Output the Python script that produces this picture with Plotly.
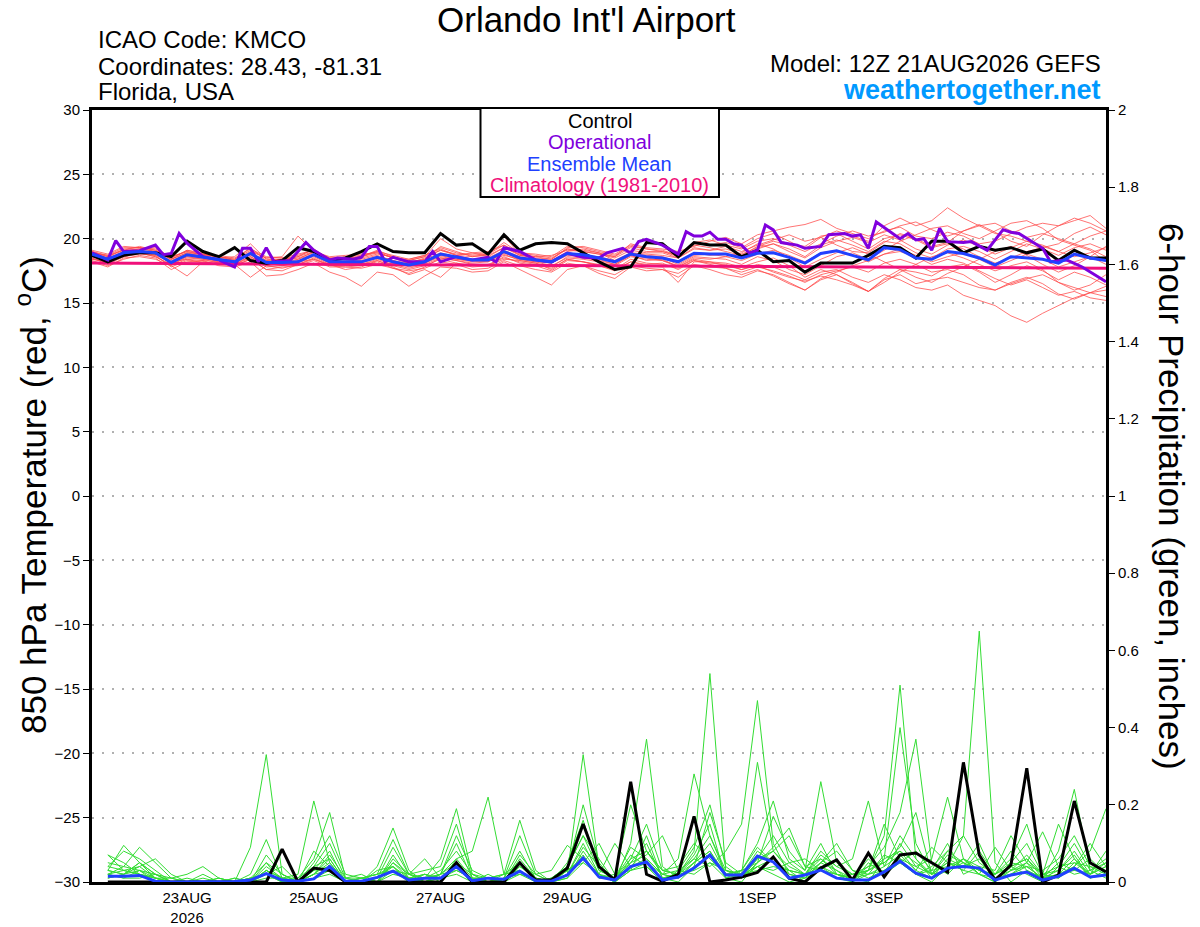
import pandas as pd
import plotly.graph_objects as go

# --- data (12Z 21AUG2026, KMCO) ---------------------
START = pd.Timestamp("2026-08-21 12:00")
temp_hours = list(range(0, 385, 6))          # 6-hourly steps, 0..384 h
precip_hours = temp_hours[1:]                # accumulations start at +6 h
clim_hours = list(range(0, 385, 24))

# 850 hPa temperature, degC
control_temp = [18.7, 18.2, 18.7, 18.9, 18.9, 18.6, 19.8, 19.0, 18.6, 19.3, 18.3, 18.1, 18.3,
                19.3, 19.0, 18.3, 18.5, 19.0, 19.6, 19.0, 18.9, 18.9, 20.4, 19.5, 19.6, 18.8,
                20.3, 19.1, 19.6, 19.7, 19.6, 18.9, 18.2, 17.6, 17.8, 19.7, 19.6, 18.6, 19.7,
                19.5, 19.5, 18.6, 19.1, 18.2, 18.3, 17.4, 18.1, 18.1, 18.1, 18.7, 19.4, 19.3,
                18.5, 19.8, 19.8, 18.9, 19.4, 19.1, 19.3, 18.9, 19.2, 18.3, 19.1, 18.5, 18.5]
mean_temp = [18.8, 18.4, 18.9, 19.0, 18.9, 18.15, 18.75, 18.55, 18.35, 18.2, 18.85, 18.15, 18.15,
             18.2, 18.75, 18.2, 18.2, 18.2, 18.55, 18.2, 17.95, 18.2, 18.8, 18.6, 18.35, 18.35,
             19.0, 18.5, 18.35, 18.2, 18.85, 18.75, 18.5, 18.2, 18.8, 18.6, 18.5, 18.2, 18.87,
             18.8, 18.8, 18.5, 18.87, 18.9, 18.55, 18.1, 18.85, 19.05, 18.7, 18.35, 19.3, 19.15,
             18.5, 18.4, 19.0, 18.85, 18.5, 17.95, 18.6, 18.5, 18.4, 18.1, 18.8, 18.5, 18.3]
clim_temp = [18.1, 18.08, 18.05, 18.03, 18.0, 17.98, 17.95, 17.93, 17.9, 17.88, 17.85, 17.83,
             17.8, 17.78, 17.75, 17.73, 17.7]

# operational run is 3-hourly
op_hours = [0, 6, 9, 12, 18, 24, 27, 30, 33, 36, 42, 48, 54, 57, 60, 63, 66, 69, 75, 81, 84, 90,
            93, 99, 102, 105, 108, 111, 114, 120, 126, 129, 132, 138, 144, 150, 153, 156, 162,
            168, 174, 180, 186, 192, 195, 201, 204, 207, 210, 216, 222, 225, 228, 231, 234, 237,
            240, 243, 246, 249, 252, 255, 258, 261, 267, 270, 276, 279, 285, 288, 291, 294, 297,
            303, 306, 309, 312, 315, 318, 321, 324, 330, 333, 339, 345, 348, 351, 360, 363, 369,
            375, 384]
op_temp = [18.9, 18.35, 19.85, 19.0, 19.07, 19.5, 18.75, 18.85, 20.4, 19.65, 18.6, 18.35, 17.8,
           19.25, 19.25, 18.2, 19.3, 18.2, 18.3, 19.7, 19.1, 18.35, 18.5, 18.4, 18.55, 19.4, 19.4,
           18.2, 18.55, 18.2, 18.2, 19.0, 18.2, 18.6, 18.35, 18.55, 18.2, 19.3, 19.0, 18.35, 18.2,
           18.87, 18.55, 18.5, 18.9, 19.25, 18.87, 19.77, 19.95, 19.5, 18.8, 20.55, 20.2, 20.2,
           20.5, 19.95, 19.95, 19.6, 19.5, 18.87, 19.1, 21.06, 20.68, 19.7, 19.5, 19.25, 19.4,
           20.3, 20.4, 20.2, 20.3, 19.25, 21.3, 20.4, 20.0, 20.4, 19.9, 20.0, 19.1, 20.8, 19.77,
           19.7, 19.77, 19.1, 20.7, 20.5, 20.4, 19.25, 18.2, 18.35, 17.8, 16.65]

member_temps = [
    [18.9, 18.6, 19.2, 19.3, 19.0, 18.4, 19.1, 18.8, 18.5, 18.6, 19.6, 18.4, 18.3, 18.6, 19.2, 18.4, 18.5,
     18.6, 19.1, 18.6, 18.2, 18.4, 19.4, 19.0, 18.6, 18.8, 19.7, 18.9, 18.8, 18.6, 19.4, 19.3, 19.0, 18.7,
     19.4, 19.2, 19.1, 18.7, 19.6, 19.5, 19.7,
     19.3, 20.0, 20.4, 19.8, 19.2, 20.1, 20.6, 20.2, 19.8, 21.0, 21.6, 21.0, 21.4, 22.4, 21.6, 21.0, 20.4,
     20.2, 19.8, 19.4, 19.0, 19.6, 19.2, 18.6],
    [18.5, 18.0, 18.6, 18.8, 18.7, 17.8, 18.3, 18.2, 18.0, 17.9, 18.4, 17.6, 17.5, 18.0, 18.5, 17.9, 17.8,
     17.9, 18.2, 17.7, 17.3, 17.8, 18.5, 18.3, 18.0, 17.9, 18.6, 18.1, 17.9, 17.5, 18.3, 18.2, 17.9, 17.6,
     18.4, 18.1, 18.0, 17.7, 18.3, 18.1, 18.0,
     17.6, 18.0, 17.8, 17.3, 16.8, 17.4, 17.6, 17.0, 16.6, 17.2, 16.8, 16.2, 16.0, 16.4, 15.6, 15.2, 14.8,
     14.0, 13.5, 14.2, 14.8, 15.4, 15.8, 16.0],
    [19.1, 18.8, 19.4, 19.3, 19.2, 18.6, 19.0, 18.7, 18.7, 18.5, 19.2, 18.6, 18.5, 18.4, 19.0, 18.6, 18.7,
     18.8, 18.9, 18.5, 18.4, 18.7, 19.2, 18.7, 18.9, 18.6, 19.3, 18.8, 18.6, 18.7, 19.1, 19.0, 18.8, 18.6,
     19.6, 19.3, 19.2, 19.0, 19.4, 19.8, 20.1,
     19.6, 20.3, 20.6, 20.9, 21.1, 21.5, 20.8, 20.4, 20.0, 20.6, 20.9, 20.2, 20.0, 20.5, 20.2, 19.6, 19.8,
     20.4, 20.9, 21.2, 21.0, 21.4, 21.8, 20.8],
    [18.3, 17.9, 18.4, 18.7, 18.5, 17.6, 18.2, 18.3, 17.9, 17.8, 18.2, 17.1, 17.2, 17.6, 18.1, 17.4, 17.0,
     16.3, 17.4, 17.2, 16.3, 17.1, 17.8, 17.7, 17.4, 17.5, 18.2, 17.6, 17.0, 16.4, 17.6, 17.9, 17.3, 16.9,
     17.8, 17.5, 17.6, 17.0, 17.9, 17.6, 17.2,
     17.0, 17.5, 17.2, 16.6, 16.0, 16.8, 17.2, 16.6, 15.9, 16.8, 17.2, 16.5, 16.8, 17.0, 16.6, 16.2, 16.0,
     16.5, 16.9, 17.2, 16.6, 16.2, 15.8, 15.5],
    [18.7, 18.5, 19.0, 19.2, 19.3, 18.5, 19.1, 18.9, 18.6, 18.3, 19.0, 18.5, 18.6, 20.2, 19.0, 18.3, 18.4,
     18.6, 19.0, 18.5, 18.3, 18.6, 19.1, 18.8, 18.8, 18.9, 20.2, 18.8, 18.4, 18.3, 19.0, 19.2, 18.9, 18.3,
     18.9, 18.8, 18.7, 18.5, 19.3, 19.1, 19.2,
     18.8, 19.3, 19.6, 19.2, 18.6, 19.5, 19.9, 19.5, 19.0, 19.8, 19.6, 18.9, 18.5, 19.2, 19.4, 19.0, 18.4,
     19.0, 19.6, 19.2, 18.7, 19.3, 19.6, 19.1],
    [18.4, 18.2, 18.6, 18.9, 18.6, 17.9, 17.1, 18.2, 18.0, 18.0, 17.0, 17.9, 17.7, 18.0, 18.4, 18.0, 17.6,
     17.8, 18.3, 17.8, 17.2, 17.6, 17.0, 18.1, 17.8, 17.9, 18.4, 18.3, 18.1, 17.6, 18.4, 18.2, 18.0, 17.6,
     18.2, 17.9, 17.8, 16.6, 18.2, 18.2, 18.1,
     17.8, 18.2, 18.5, 17.9, 17.0, 17.6, 17.2, 16.5, 15.9, 16.9, 17.6, 17.4, 17.1, 17.8, 18.0, 17.4, 16.6,
     17.2, 17.9, 17.5, 16.8, 17.4, 17.0, 16.4],
    [19.0, 18.6, 19.1, 19.2, 19.0, 18.4, 18.9, 18.6, 18.5, 18.3, 18.9, 18.3, 18.4, 18.6, 19.0, 18.5, 18.4,
     18.5, 18.8, 18.6, 18.3, 18.6, 20.0, 19.2, 18.9, 19.0, 19.5, 18.7, 18.6, 18.4, 19.3, 19.4, 19.1, 18.8,
     19.5, 19.2, 19.0, 18.7, 19.7, 19.9, 19.5,
     19.2, 19.8, 20.0, 19.6, 19.4, 20.2, 20.4, 19.8, 19.2, 20.0, 20.3, 19.9, 19.3, 19.6, 19.2, 18.6, 18.1,
     18.5, 19.0, 19.3, 19.6, 20.4, 20.9, 20.3],
    [18.6, 18.3, 18.8, 19.0, 18.8, 18.2, 18.6, 18.4, 18.3, 18.1, 18.6, 18.0, 18.0, 18.2, 18.6, 18.0, 18.1,
     18.0, 18.4, 18.0, 17.7, 18.0, 18.5, 18.3, 18.1, 18.2, 18.7, 18.4, 18.2, 17.9, 18.5, 18.4, 18.2, 17.9,
     18.6, 18.4, 18.3, 17.9, 18.6, 18.5, 18.4,
     18.0, 18.6, 18.3, 17.6, 17.2, 17.9, 18.6, 18.9, 18.4, 19.1, 19.8, 20.3, 20.8, 21.0, 20.4, 20.0, 20.6,
     21.2, 21.4, 20.8, 19.9, 19.5, 19.1, 18.2],
    [18.8, 18.5, 18.9, 18.9, 18.9, 18.0, 18.6, 18.5, 18.2, 18.1, 18.8, 18.1, 17.9, 18.1, 18.7, 18.1, 18.0,
     18.1, 18.5, 18.1, 17.9, 18.1, 18.7, 18.4, 18.3, 18.2, 18.9, 18.4, 18.2, 18.1, 18.8, 18.6, 18.4, 18.0,
     18.7, 18.3, 18.4, 17.8, 18.4, 18.2, 17.9,
     17.6, 17.9, 17.4, 17.0, 16.7, 17.1, 16.8, 16.4, 15.9, 16.6, 17.4, 18.0, 18.6, 18.9, 18.5, 18.0, 17.5,
     17.9, 18.2, 17.6, 16.6, 16.0, 16.4, 17.2],
    [18.9, 18.7, 19.3, 19.3, 19.1, 18.4, 18.9, 18.8, 18.6, 18.4, 19.3, 18.3, 18.4, 18.7, 19.1, 18.4, 18.5,
     18.6, 18.9, 18.5, 18.1, 18.5, 19.1, 18.7, 18.6, 18.7, 19.3, 18.7, 18.5, 18.4, 19.2, 19.0, 18.8, 18.5,
     19.1, 18.9, 18.9, 18.5, 19.2, 19.1, 19.4,
     19.0, 19.5, 19.9, 20.3, 19.8, 20.1, 19.5, 19.0, 18.9, 19.7, 20.4, 20.0, 19.4, 19.7, 20.6, 21.1, 20.5,
     19.8, 19.4, 20.3, 21.0, 21.6, 21.2, 20.6],
    [18.2, 17.8, 18.5, 18.6, 18.4, 17.9, 18.4, 18.1, 18.1, 17.9, 18.4, 17.6, 17.8, 17.9, 18.3, 17.8, 17.8,
     17.7, 18.0, 17.7, 17.5, 17.7, 18.2, 18.0, 17.6, 17.7, 18.3, 17.9, 17.6, 17.4, 18.1, 17.9, 17.5, 17.2,
     17.9, 17.7, 17.6, 17.3, 18.0, 17.8, 17.7,
     17.4, 17.8, 17.5, 17.1, 16.6, 17.2, 17.5, 17.8, 17.4, 18.1, 18.4, 18.0, 17.4, 17.6, 17.2, 16.4, 16.0,
     16.6, 17.0, 16.5, 15.7, 15.3, 15.8, 16.3],
    [18.6, 18.4, 19.0, 19.1, 18.9, 18.3, 18.8, 18.7, 18.4, 18.3, 18.7, 18.2, 18.3, 18.5, 18.9, 18.3, 18.2,
     18.4, 18.7, 18.3, 18.1, 18.4, 18.9, 18.6, 18.4, 18.5, 19.1, 18.6, 18.4, 18.2, 18.9, 18.7, 18.6, 18.3,
     18.9, 18.7, 18.6, 18.2, 18.9, 18.7, 18.8,
     18.6, 19.2, 19.6, 19.0, 18.5, 19.3, 19.8, 20.1, 19.7, 20.3, 19.9, 19.2, 18.8, 19.5, 19.9, 19.4, 18.8,
     19.3, 19.8, 19.5, 19.0, 18.6, 18.9, 19.3],
    [18.5, 18.1, 18.7, 18.9, 18.6, 18.0, 18.5, 18.4, 18.1, 18.0, 18.5, 17.8, 17.9, 18.2, 18.4, 17.9, 18.0,
     18.0, 18.3, 17.9, 17.6, 17.9, 18.4, 18.1, 17.9, 18.0, 18.5, 18.2, 18.0, 17.7, 18.4, 18.2, 17.9, 17.5,
     18.2, 18.0, 18.1, 17.6, 18.3, 18.0, 17.7,
     17.2, 17.6, 17.1, 16.5, 16.0, 16.9, 17.4, 17.9, 18.3, 18.8, 19.0, 18.6, 18.0, 18.4, 18.1, 17.5, 16.9,
     16.4, 16.8, 16.2, 15.6, 15.9, 15.4, 15.2],
    [19.0, 18.7, 19.1, 19.4, 19.1, 18.6, 19.0, 18.8, 18.6, 18.4, 19.1, 18.5, 18.5, 18.8, 19.1, 18.5, 18.6,
     18.7, 19.0, 18.7, 18.4, 18.7, 19.3, 18.9, 18.7, 18.8, 19.5, 18.9, 18.7, 18.5, 19.2, 19.1, 18.9, 18.6,
     19.3, 19.0, 19.0, 18.6, 19.5, 19.3, 19.0,
     18.7, 19.4, 19.8, 19.5, 19.0, 19.6, 20.2, 20.6, 20.2, 20.5, 21.0, 21.3, 20.7, 20.2, 20.6, 21.0, 21.2,
     20.6, 20.1, 20.4, 20.0, 19.6, 20.2, 20.6],
    [18.7, 18.3, 18.8, 19.1, 18.8, 18.1, 18.7, 18.5, 18.3, 18.2, 18.9, 18.2, 18.1, 18.4, 18.8, 18.2, 18.3,
     18.3, 18.6, 18.3, 17.9, 18.2, 18.8, 18.5, 18.3, 18.4, 18.9, 18.5, 18.3, 18.1, 18.7, 18.7, 18.5, 18.2,
     18.8, 18.6, 18.5, 18.0, 18.7, 18.8, 18.6,
     18.3, 18.8, 19.1, 18.7, 18.2, 18.9, 19.1, 18.7, 18.2, 18.8, 19.2, 18.7, 18.2, 18.6, 18.9, 18.4, 17.8,
     18.3, 18.8, 18.4, 17.8, 18.2, 18.6, 18.0],
    [18.4, 18.2, 18.8, 19.0, 18.7, 18.2, 18.4, 18.3, 18.2, 18.0, 18.6, 17.9, 18.1, 18.3, 18.7, 18.1, 18.0,
     18.2, 18.5, 18.2, 17.8, 18.1, 18.6, 18.4, 18.2, 18.3, 18.8, 18.3, 18.1, 17.8, 18.6, 18.5, 18.3, 18.0,
     18.7, 18.5, 18.3, 17.8, 18.5, 18.4, 18.6,
     18.9, 19.6, 19.2, 18.5, 17.8, 18.4, 18.9, 19.3, 18.8, 18.2, 17.6, 17.0, 16.6, 17.3, 17.8, 18.4, 19.0,
     19.4, 18.7, 18.0, 17.4, 17.9, 18.6, 19.4],
]

# 6-hour precipitation, inches
control_precip = [0, 0, 0, 0, 0, 0, 0, 0, 0, 0, 0, 0.085, 0, 0.036, 0.03, 0, 0, 0, 0, 0, 0, 0,
                  0.05, 0, 0, 0, 0.05, 0.005, 0.005, 0.036, 0.15, 0.04, 0.005, 0.26, 0.02, 0.002,
                  0.02, 0.17, 0, 0.005, 0.013, 0.025, 0.065, 0.01, 0, 0.036, 0.057, 0.005, 0.075,
                  0.013, 0.07, 0.075, 0.05, 0.026, 0.31, 0.07, 0.005, 0.044, 0.295, 0, 0.018, 0.21,
                  0.05, 0.026]
mean_precip = [0.015, 0.015, 0.017, 0.002, 0, 0, 0, 0, 0.001, 0.005, 0.022, 0.005, 0.002, 0.008,
               0.04, 0.002, 0.002, 0.012, 0.028, 0.005, 0.01, 0.01, 0.04, 0.003, 0.01, 0.007, 0.028,
               0.003, 0.002, 0.018, 0.062, 0.013, 0.005, 0.04, 0.052, 0.005, 0.013, 0.036, 0.07,
               0.018, 0.018, 0.067, 0.052, 0.01, 0.018, 0.031, 0.01, 0.005, 0.005, 0.026, 0.054,
               0.023, 0.01, 0.036, 0.04, 0.036, 0.005, 0.018, 0.026, 0.005, 0.015, 0.036, 0.013,
               0.018]

member_precips = [
    [0.02, 0.01, 0.03, 0, 0, 0, 0, 0, 0, 0.09, 0.33, 0.02, 0, 0.01, 0.03, 0,
     0, 0.01, 0.03, 0, 0, 0.01, 0.04, 0, 0, 0.01, 0.02, 0, 0, 0.02, 0.33, 0.04,
     0, 0.05, 0.1, 0.01, 0.02, 0.08, 0.54, 0.03, 0.01, 0.04, 0.02, 0, 0.01, 0.03, 0.02, 0,
     0.02, 0.03, 0.06, 0.02, 0, 0.04, 0.12, 0.65, 0.05, 0, 0.03, 0.01, 0.02, 0.06, 0.02, 0.04],
    [0.07, 0.05, 0.02, 0.01, 0, 0, 0, 0, 0, 0, 0.04, 0.01, 0.02, 0.21, 0.05, 0,
     0, 0, 0.05, 0.01, 0.02, 0, 0.06, 0.08, 0.22, 0.02, 0.03, 0, 0, 0.01, 0.08, 0.02,
     0, 0.1, 0.37, 0.04, 0.01, 0.05, 0.1, 0.02, 0.03, 0.09, 0.05, 0.01, 0.02, 0.04, 0.01, 0,
     0.03, 0.12, 0.51, 0.06, 0.01, 0.03, 0.05, 0.02, 0, 0.04, 0.06, 0.01, 0.08, 0.24, 0.03, 0.01],
    [0.04, 0.08, 0.06, 0.03, 0, 0.01, 0, 0, 0, 0.01, 0.02, 0, 0.01, 0.06, 0.18, 0.01,
     0, 0.03, 0.04, 0, 0.01, 0.06, 0.19, 0.02, 0, 0, 0.05, 0, 0.01, 0.04, 0.12, 0.03,
     0.01, 0.07, 0.04, 0, 0.03, 0.06, 0.04, 0.08, 0.15, 0.47, 0.1, 0.02, 0.01, 0.05, 0.03, 0.01,
     0.04, 0.09, 0.18, 0.37, 0.05, 0.02, 0.06, 0.03, 0.01, 0.03, 0.05, 0, 0.02, 0.04, 0.08, 0.19],
    [0.03, 0.02, 0.05, 0.02, 0, 0, 0.01, 0, 0.01, 0, 0.07, 0.02, 0, 0.03, 0.08, 0,
     0, 0.04, 0.14, 0.03, 0, 0.02, 0.05, 0, 0.01, 0, 0.06, 0.01, 0, 0.03, 0.2, 0.05,
     0, 0.04, 0.08, 0.02, 0.06, 0.28, 0.12, 0.02, 0.02, 0.06, 0.08, 0.03, 0, 0.04, 0.02, 0.01,
     0, 0.06, 0.4, 0.1, 0.02, 0.05, 0.03, 0.08, 0.02, 0.06, 0.15, 0.02, 0.01, 0.05, 0.04, 0.03],
    [0.05, 0.04, 0.09, 0.05, 0.01, 0, 0, 0, 0, 0.01, 0.05, 0, 0, 0.04, 0.1, 0.01,
     0.02, 0, 0.06, 0.02, 0.03, 0.04, 0.15, 0.01, 0, 0.02, 0.16, 0.03, 0, 0.02, 0.1, 0.02,
     0, 0.03, 0.12, 0.01, 0.02, 0.07, 0.15, 0.01, 0.03, 0.1, 0.21, 0.06, 0.03, 0.26, 0.05, 0.02,
     0.03, 0.05, 0.08, 0.03, 0.01, 0.06, 0.04, 0.1, 0.01, 0.02, 0.04, 0.01, 0.03, 0.08, 0.02, 0.05],
    [0.07, 0.03, 0.04, 0.01, 0, 0, 0.02, 0, 0, 0.02, 0.11, 0.01, 0, 0.02, 0.06, 0,
     0.01, 0.02, 0.11, 0.02, 0.01, 0.03, 0.08, 0.02, 0, 0.01, 0.04, 0.02, 0, 0.05, 0.16, 0.03,
     0.01, 0.09, 0.06, 0.02, 0.01, 0.04, 0.18, 0.05, 0.02, 0.31, 0.08, 0.04, 0.02, 0.06, 0.03, 0,
     0.05, 0.02, 0.1, 0.04, 0.06, 0.22, 0.06, 0.02, 0, 0.05, 0.1, 0.02, 0.03, 0.07, 0.01, 0.02],
    [0.03, 0.095, 0.05, 0.02, 0.01, 0, 0, 0, 0.01, 0, 0.03, 0.01, 0, 0.05, 0.12, 0.02,
     0.01, 0, 0.07, 0.01, 0, 0.02, 0.1, 0.01, 0.01, 0, 0.07, 0.02, 0.03, 0.095, 0.06, 0.01,
     0.02, 0.2, 0.08, 0.03, 0.04, 0.1, 0.06, 0.02, 0.01, 0.06, 0.12, 0.05, 0.02, 0.08, 0.04, 0.06,
     0.21, 0.04, 0.12, 0.06, 0.02, 0.08, 0.05, 0.03, 0.02, 0.08, 0.03, 0.01, 0.05, 0.03, 0.06, 0.02],
    [0.02, 0.03, 0.02, 0.01, 0, 0, 0, 0.01, 0, 0, 0.02, 0, 0, 0.03, 0.04, 0,
     0, 0.01, 0.04, 0, 0.02, 0.01, 0.03, 0.01, 0, 0.01, 0.12, 0.02, 0, 0.01, 0.05, 0.02,
     0, 0.06, 0.15, 0.03, 0.02, 0.05, 0.08, 0.01, 0, 0.05, 0.17, 0.08, 0.03, 0.1, 0.02, 0.01,
     0.06, 0.02, 0.05, 0.08, 0.03, 0.1, 0.02, 0.04, 0.03, 0.12, 0.05, 0.02, 0.15, 0.06, 0.01, 0.03],
    [0.01, 0.02, 0.04, 0.06, 0.02, 0, 0, 0, 0, 0, 0.03, 0, 0, 0.08, 0.04, 0,
     0, 0, 0.02, 0.01, 0, 0.02, 0.12, 0.03, 0.01, 0, 0.02, 0.01, 0, 0.02, 0.07, 0.01,
     0.01, 0.04, 0.06, 0.02, 0.03, 0.09, 0.2, 0.04, 0.01, 0.04, 0.06, 0.02, 0.01, 0.05, 0.08, 0.03,
     0.02, 0.07, 0.05, 0.02, 0.04, 0.08, 0.12, 0.05, 0.02, 0.04, 0.02, 0, 0.04, 0.1, 0.03, 0.06],
    [0.02, 0.01, 0.01, 0.02, 0, 0, 0, 0.01, 0, 0.01, 0.02, 0, 0, 0.02, 0.05, 0,
     0, 0.01, 0.09, 0.02, 0, 0.01, 0.04, 0, 0.02, 0, 0.03, 0, 0.01, 0.04, 0.12, 0.06,
     0, 0.03, 0.05, 0.01, 0, 0.04, 0.07, 0.02, 0.01, 0.05, 0.09, 0.14, 0.04, 0.03, 0.01, 0.02,
     0.04, 0.05, 0.09, 0.18, 0.02, 0.03, 0.06, 0.04, 0, 0.03, 0.07, 0.02, 0.01, 0.04, 0.1, 0.04],
    [0.01, 0.02, 0.03, 0.01, 0.01, 0.02, 0.04, 0.01, 0, 0, 0.01, 0.01, 0, 0.02, 0.03, 0.01,
     0.01, 0, 0.03, 0.02, 0.06, 0.01, 0.02, 0, 0.01, 0.02, 0.03, 0, 0.01, 0.03, 0.05, 0.1,
     0.02, 0.03, 0.04, 0.01, 0.02, 0.03, 0.05, 0.01, 0.02, 0.03, 0.04, 0.03, 0.02, 0.05, 0.1, 0.03,
     0.01, 0.03, 0.05, 0.02, 0.03, 0.04, 0.06, 0.02, 0.09, 0.03, 0.04, 0.01, 0.02, 0.03, 0.02, 0.08],
    [0.03, 0.02, 0.05, 0.01, 0, 0, 0, 0, 0, 0.01, 0.02, 0.04, 0, 0.01, 0.02, 0,
     0.01, 0.02, 0.04, 0.01, 0.01, 0.02, 0.03, 0.01, 0.01, 0, 0.04, 0.01, 0, 0.03, 0.06, 0.02,
     0.01, 0.05, 0.07, 0.12, 0.03, 0.02, 0.05, 0.03, 0.02, 0.04, 0.03, 0.05, 0.06, 0.03, 0.02, 0.01,
     0.03, 0.15, 0.06, 0.04, 0.02, 0.05, 0.03, 0.02, 0.01, 0.02, 0.05, 0.13, 0.04, 0.02, 0.03, 0.05],
    [0.04, 0.03, 0.02, 0.01, 0, 0, 0, 0, 0, 0, 0.05, 0.02, 0, 0.02, 0.07, 0.01,
     0, 0, 0.05, 0.02, 0.01, 0.02, 0.06, 0.01, 0, 0.01, 0.08, 0.01, 0, 0.02, 0.09, 0.04,
     0.01, 0.06, 0.08, 0.03, 0.02, 0.06, 0.12, 0.03, 0.02, 0.08, 0.05, 0.03, 0.02, 0.07, 0.04, 0.02,
     0.03, 0.06, 0.08, 0.05, 0.02, 0.07, 0.05, 0.03, 0.02, 0.05, 0.04, 0.03, 0.06, 0.12, 0.04, 0.02],
    [0.02, 0.04, 0.03, 0.02, 0, 0, 0, 0, 0, 0, 0.03, 0.01, 0.01, 0.04, 0.06, 0,
     0.01, 0.02, 0.03, 0.01, 0.02, 0.01, 0.05, 0.02, 0.01, 0.02, 0.05, 0.01, 0, 0.03, 0.06, 0.02,
     0.1, 0.04, 0.05, 0.02, 0.01, 0.05, 0.08, 0.02, 0.03, 0.05, 0.08, 0.12, 0.04, 0.06, 0.02, 0.01,
     0.02, 0.04, 0.07, 0.03, 0.09, 0.05, 0.04, 0.06, 0.01, 0.04, 0.06, 0.02, 0.04, 0.05, 0.02, 0.04],
]

tick_days = ["2026-08-23", "2026-08-25", "2026-08-27", "2026-08-29",
             "2026-09-01", "2026-09-03", "2026-09-05"]
tick_text = ["23AUG<br>2026", "25AUG", "27AUG", "29AUG", "1SEP", "3SEP", "5SEP"]
legend_lines = ["Control", "Operational", "Ensemble Mean", "Climatology (1981-2010)"]

FONT = "Liberation Sans, Arial, Helvetica, sans-serif"
RED = "rgba(255,70,70,0.75)"
GREEN = "#33dd33"
BLACK = "#000000"
PURPLE = "#8000dd"
BLUE = "#2040ff"
PINK = "#f0107a"
legend_colors = [BLACK, PURPLE, BLUE, PINK]


def times(hours):
    return [START + pd.Timedelta(hours=h) for h in hours]


# plot box in page pixels (body margin removed below)
W, H = 1200, 927
L, R, T, B = 92, 1106, 110, 882


def px(x):
    return (x - L) / (R - L)


def py(y):
    return (B - y) / (B - T)


fig = go.Figure()

for m in member_temps:
    fig.add_trace(go.Scatter(x=times(temp_hours), y=m, mode="lines",
                             line={"color": RED, "width": 1}, hoverinfo="skip"))
for m in member_precips:
    fig.add_trace(go.Scatter(x=times(precip_hours), y=m, mode="lines", yaxis="y2",
                             line={"color": GREEN, "width": 1}, hoverinfo="skip"))

fig.add_trace(go.Scatter(x=times(clim_hours), y=clim_temp, mode="lines", name="Climatology",
                         line={"color": PINK, "width": 3}))
fig.add_trace(go.Scatter(x=times(temp_hours), y=control_temp, mode="lines", name="Control",
                         line={"color": BLACK, "width": 3}))
fig.add_trace(go.Scatter(x=times(precip_hours), y=control_precip, mode="lines", yaxis="y2",
                         line={"color": BLACK, "width": 3}))
fig.add_trace(go.Scatter(x=times(op_hours), y=op_temp, mode="lines", name="Operational",
                         line={"color": PURPLE, "width": 3}))
fig.add_trace(go.Scatter(x=times(temp_hours), y=mean_temp, mode="lines", name="Ensemble Mean",
                         line={"color": BLUE, "width": 3}))
fig.add_trace(go.Scatter(x=times(precip_hours), y=mean_precip, mode="lines", yaxis="y2",
                         line={"color": BLUE, "width": 3}))

annotations = [
    dict(text="Orlando Int'l Airport", x=px(586), y=py(19), font={"size": 35}),
    dict(text="ICAO Code: KMCO", x=px(96), y=py(40), xanchor="left", font={"size": 24}),
    dict(text="Coordinates: 28.43, -81.31", x=px(96), y=py(66), xanchor="left", font={"size": 24}),
    dict(text="Florida, USA", x=px(96), y=py(92), xanchor="left", font={"size": 24}),
    dict(text="Model: 12Z 21AUG2026 GEFS", x=px(1103), y=py(63), xanchor="right",
         font={"size": 24}),
    dict(text="<b>weathertogether.net</b>", x=px(1103), y=py(90), xanchor="right",
         font={"size": 27, "color": "#0099ff"}),
    dict(text="850 hPa Temperature (red, <sup>o</sup>C)", x=px(31), y=py(495), textangle=-90,
         font={"size": 35}),
    dict(text="6-hour Precipitation (green, inches)", x=px(1172), y=py(496), textangle=90,
         font={"size": 35}),
]
for k, (txt, col) in enumerate(zip(legend_lines, legend_colors)):
    annotations.append(dict(text=txt, x=px(599.5), y=py(121 + 21.3 * k),
                            font={"size": 20, "color": col}))
for a in annotations:
    a.setdefault("xref", "paper")
    a.setdefault("yref", "paper")
    a.setdefault("showarrow", False)
    a.setdefault("yanchor", "middle")
    a.setdefault("xanchor", "center")
    a["font"].setdefault("color", "black")
    a["font"]["family"] = FONT

# legend box
shapes = [dict(type="rect", xref="paper", yref="paper",
               x0=px(480.5), x1=px(719), y0=py(197), y1=py(108),
               line={"color": "black", "width": 2}, fillcolor="white", layer="above")]

fig.update_layout(
    width=W, height=H,
    margin={"l": L, "r": W - R, "t": T, "b": H - B, "autoexpand": False},
    paper_bgcolor="white", plot_bgcolor="white",
    showlegend=False,
    font={"family": FONT, "color": "black", "size": 15},
    xaxis={
        "type": "date", "automargin": False,
        "range": [START, START + pd.Timedelta(hours=384)],
        "tickvals": [pd.Timestamp(d) for d in tick_days],
        "ticktext": tick_text,
        "showgrid": False, "zeroline": False,
        "showline": True, "linecolor": "black", "linewidth": 3, "mirror": True,
        "ticks": "", "tickfont": {"size": 15},
    },
    yaxis={
        "range": [-30, 30], "dtick": 5, "tick0": 0, "automargin": False,
        "showgrid": True, "gridcolor": "#b0b0b0", "griddash": "2px,8px", "gridwidth": 1.5,
        "zeroline": False,
        "showline": True, "linecolor": "black", "linewidth": 3,
        "ticks": "outside", "ticklen": 6, "tickcolor": "black",
        "tickfont": {"size": 15},
    },
    yaxis2={
        "range": [0, 2], "dtick": 0.2, "tick0": 0, "automargin": False,
        "overlaying": "y", "side": "right",
        "showgrid": False, "zeroline": False,
        "showline": True, "linecolor": "black", "linewidth": 3,
        "ticks": "outside", "ticklen": 6, "tickcolor": "black",
        "tickfont": {"size": 15},
    },
    shapes=shapes,
    annotations=annotations,
)

fig.write_html(
    "out.html",
    config={"displayModeBar": False},
    post_script=(
        "var h=document.documentElement.style, b=document.body.style;"
        "h.margin=b.margin=b.padding='0';"
        "h.height=b.height='927px';"
        "h.overflow=b.overflow='hidden';"
    ),
)
